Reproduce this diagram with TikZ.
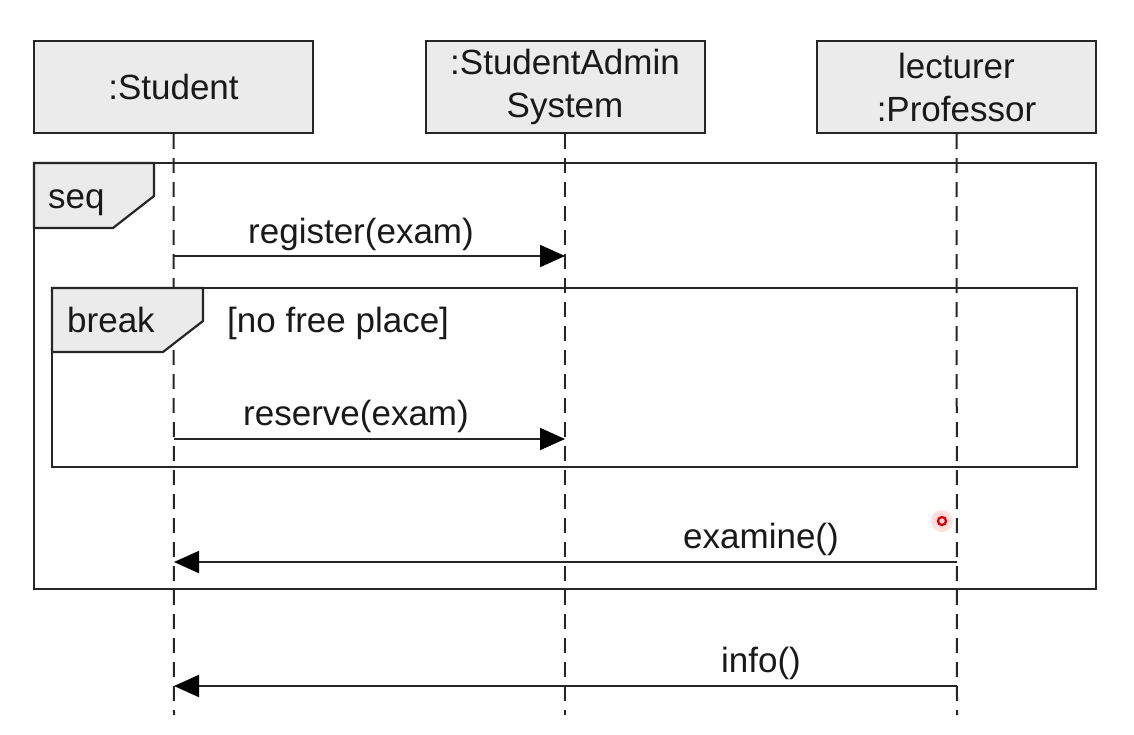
\documentclass[tikz,border=0pt]{standalone}
\usepackage{fontspec}
\setmainfont{Liberation Sans}
\usetikzlibrary{arrows.meta}
\begin{document}
\begin{tikzpicture}[x=1pt,y=-1pt,
  txt/.style={font=\fontsize{35}{43}\selectfont, inner sep=0pt, text=black!90},
  head/.style={draw=black!85, line width=2pt, fill=black!8, minimum width=279pt, minimum height=92pt, align=center, font=\fontsize{35}{43}\selectfont, text=black!90, inner sep=0pt},
  life/.style={draw=black!85, line width=2pt, dash pattern=on 15pt off 9pt},
  frm/.style={draw=black!85, line width=2.2pt},
  tab/.style={draw=black!85, line width=2.2pt, fill=black!8},
  msg/.style={draw=black!85, line width=2pt, -{Triangle[length=25pt,width=22pt,fill=black,color=black]}}]
\useasboundingbox (0,0) rectangle (1134,734);
% headers
\node[head] (stu) at (173.5,87) {:Student};
\node[head] (sas) at (565,87) {:StudentAdmin\\System};
\node[head] (prof) at (956.5,87) {lecturer\\:Professor};
% lifeline ends
\coordinate (stuE) at (174,715);
\coordinate (sasE) at (565,715);
\coordinate (profE) at (957,715);
\draw[life] (stu.south) -- (stuE);
\draw[life] (sas.south) -- (sasE);
\draw[life] (prof.south) -- (profE);
% seq frame
\draw[frm] (34,163) rectangle (1096,589);
\draw[tab] (34,163) -- (154,163) -- (154,196) -- (113,228) -- (34,228) -- cycle;
\node[txt, anchor=base west] (seq) at (48,208) {seq};
% break frame
\draw[frm] (52,288) -- (1077,288) -- (1077,467) -- (52,467) -- cycle;
\draw[tab] (52,288) -- (203,288) -- (203,321) -- (163,352) -- (52,352) -- cycle;
\node[txt, anchor=base west] (brk) at (67,332) {break};
\node[txt, anchor=base west] (guard) at (227,332) {[no free place]};
% messages
\coordinate (r1s) at (174,256); \coordinate (r1e) at (565,256);
\draw[msg] (r1s) -- (r1e);
\node[txt, anchor=base] (l1) at (361,243) {register(exam)};
\coordinate (r2s) at (174,439); \coordinate (r2e) at (565,439);
\draw[msg] (r2s) -- (r2e);
\node[txt, anchor=base] (l2) at (356,425) {reserve(exam)};
\coordinate (r3s) at (957,562); \coordinate (r3e) at (174,562);
\draw[msg] (r3s) -- (r3e);
\node[txt, anchor=base] (l3) at (761,548) {examine()};
\coordinate (r4s) at (957,686); \coordinate (r4e) at (174,686);
\draw[msg] (r4s) -- (r4e);
\node[txt, anchor=base] (l4) at (761,672) {info()};
% cursor mark
\fill[red!40, opacity=0.3] (942,521) circle (11pt);
\fill[red!30, opacity=0.3] (942,521) circle (7pt);
\draw[red!80!black, line width=2.2pt] (942,521) circle (4pt);
\end{tikzpicture}
\end{document}
